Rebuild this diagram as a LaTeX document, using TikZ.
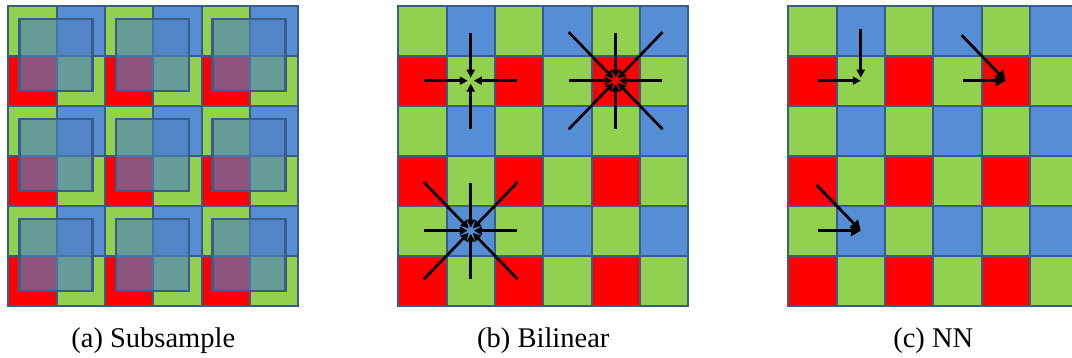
\documentclass[tikz,border=0pt]{standalone}
\usepackage{fontspec}
\setmainfont{Liberation Serif}
\usepackage{tikz}
\usetikzlibrary{arrows.meta}
\definecolor{col0}{HTML}{92D050}
\definecolor{col1}{HTML}{558ED5}
\definecolor{col2}{HTML}{FF0000}
\definecolor{edge}{HTML}{385D8A}
\definecolor{ov}{HTML}{4F81BD}

\begin{document}
\begin{tikzpicture}[x=1pt, y=-1pt,
  cell/.style={draw=edge, line width=2pt, minimum width=48.3pt, minimum height=50pt,
               inner sep=0pt, outer sep=0pt},
  over/.style={draw=edge, line width=2.6pt, fill=ov, fill opacity=0.65,
               minimum width=73pt, minimum height=72pt, inner sep=0pt},
  arr/.style={-{Triangle[length=8pt,width=8pt]}, line width=2.7pt, shorten >=3pt, shorten <=2pt},
  bigarr/.style={-{Triangle[length=10pt,width=11pt]}, line width=2.8pt},
  caption/.style={font=\fontsize{28.5}{30}\selectfont, anchor=base}]
  \useasboundingbox (0,0) rectangle (1072,358);
  \fill[white] (0,0) rectangle (1072,358);
  \clip (0,0) rectangle (1072,358);
  % bayer grids
  \foreach \g/\gx in {a/8.3, b/398.3, c/788.3}
    \foreach \i in {0,...,5}
      \foreach \j in {0,...,5} {
        \pgfmathtruncatemacro\k{mod(\i+\j,2)==0 ? 0 : (mod(\j,2)==0 ? 1 : 2)}
        \node[cell, fill=col\k] (\g-\i-\j) at ({\gx+(\i+0.5)*48.3}, {5.7+(\j+0.5)*50}) {};
      }
  % subsample windows
  \foreach \i in {0,2,4}
    \foreach \j in {0,2,4}
      \node[over] (o-\i-\j) at ({7.4+(\i+1)*48.3}, {5+(\j+1)*50}) {};
  % bilinear
  \foreach \n in {0-1,2-1,1-0,1-2} \draw[arr] (b-\n.center) -- (b-1-1.center);
  \foreach \n in {3-0,4-0,5-0,3-1,5-1,3-2,4-2,5-2} \draw[arr] (b-\n.center) -- (b-4-1.center);
  \foreach \n in {0-3,1-3,2-3,0-4,2-4,0-5,1-5,2-5} \draw[arr] (b-\n.center) -- (b-1-4.center);
  % nearest neighbour
  \draw[arr, shorten <=-2pt] (c-1-0.center) -- (c-1-1.center);
  \draw[arr, shorten <=6pt, shorten >=0pt] (c-0-1.center) -- (c-1-1.center);
  \draw[bigarr, shorten <=6pt] (c-3-0.center) -- (c-4-1.center);
  \draw[bigarr, shorten <=6pt] (c-3-1.center) -- (c-4-1.center);
  \draw[bigarr, shorten <=6pt] (c-0-3.center) -- (c-1-4.center);
  \draw[bigarr, shorten <=6pt] (c-0-4.center) -- (c-1-4.center);
  \node[caption] (capa) at (153.3,348) {(a) Subsample};
  \node[caption] (capb) at (543.3,348) {(b) Bilinear};
  \node[caption] (capc) at (933.3,348) {(c) NN};
\end{tikzpicture}
\end{document}
